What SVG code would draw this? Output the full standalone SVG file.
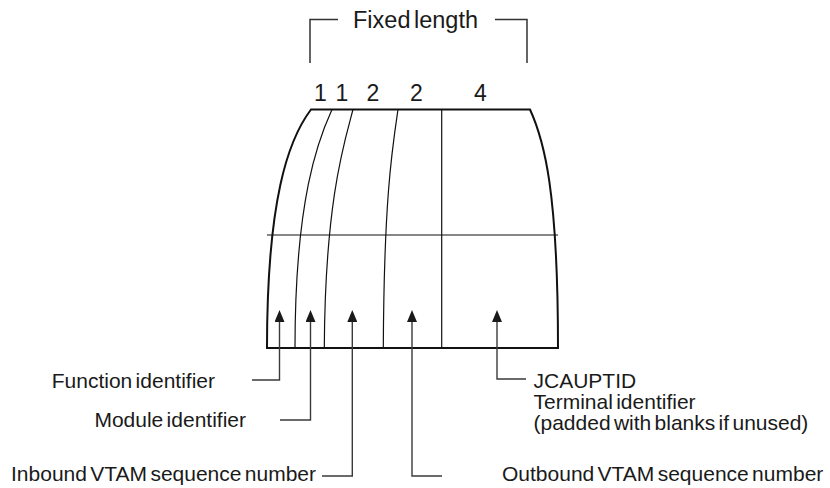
<svg xmlns="http://www.w3.org/2000/svg" width="830" height="488" viewBox="0 0 830 488">
  <style>
    text { font-family: "Liberation Sans", Arial, Helvetica, sans-serif; fill: #1a1a1a; }
    .lbl { font-size: 21px; word-spacing: -2.5px; }
    .num { font-size: 23px; text-anchor: middle; }
    .hdr { font-size: 23.5px; word-spacing: -3px; }
    .outline { fill: none; stroke: #111; stroke-width: 2; stroke-linejoin: miter; }
    .div { fill: none; stroke: #111; stroke-width: 1.2; }
    .bracket { fill: none; stroke: #333; stroke-width: 1.5; }
    .conn { fill: none; stroke: #3a3a3a; stroke-width: 1.4; marker-end: url(#ah); }
  </style>
  <defs>
    <marker id="ah" viewBox="0 0 12 10" markerWidth="12" markerHeight="10" refX="9" refY="5" markerUnits="userSpaceOnUse" orient="auto">
      <path d="M0,0 L12,5 L0,10 Z" fill="#1a1a1a"/>
    </marker>
  </defs>

  <g id="header">
    <path class="bracket" d="M310,63 V19.5 H338"/>
    <path class="bracket" d="M495,19.5 H527 V63"/>
    <text class="hdr" x="353" y="27.5">Fixed length</text>
  </g>

  <g id="field-lengths">
    <text class="num" x="320.5" y="101">1</text>
    <text class="num" x="342" y="101">1</text>
    <text class="num" x="373" y="101">2</text>
    <text class="num" x="416.5" y="101">2</text>
    <text class="num" x="480.5" y="101">4</text>
  </g>

  <g id="record">
    <path class="outline" d="M311,109.5 H530 C544,140 558,190 558,348 H267 C267,200 288,140 311,109.5 Z"/>
    <path class="div" d="M332,109.5 C318,140 295,200 295,348"/>
    <path class="div" d="M353,109.5 C345,140 325,200 324.3,348"/>
    <path class="div" d="M398,109.5 C392,150 384,200 383.3,348"/>
    <path class="div" d="M441.7,109.5 V348"/>
    <path class="div" stroke-width="1.3" d="M267,235 H558"/>
  </g>

  <g id="connectors">
    <path class="conn" d="M252,380 H279.5 V313"/>
    <path class="conn" d="M280,420 H310.5 V313"/>
    <path class="conn" d="M322,476 H352.3 V313"/>
    <path class="conn" d="M442,476 H412 V313"/>
    <path class="conn" d="M526,379 H497 V313"/>
  </g>

  <g id="label-function">
    <text class="lbl" x="215" y="387.5" text-anchor="end">Function identifier</text>
  </g>
  <g id="label-module">
    <text class="lbl" x="246" y="427" text-anchor="end">Module identifier</text>
  </g>
  <g id="label-inbound">
    <text class="lbl" x="316" y="481" text-anchor="end">Inbound VTAM sequence number</text>
  </g>
  <g id="label-outbound">
    <text class="lbl" x="502" y="481">Outbound VTAM sequence number</text>
  </g>
  <g id="label-terminal">
    <text class="lbl" x="533.5" y="388">JCAUPTID</text>
    <text class="lbl" x="533.5" y="409">Terminal identifier</text>
    <text class="lbl" x="533.5" y="430">(padded with blanks if unused)</text>
  </g>
</svg>
